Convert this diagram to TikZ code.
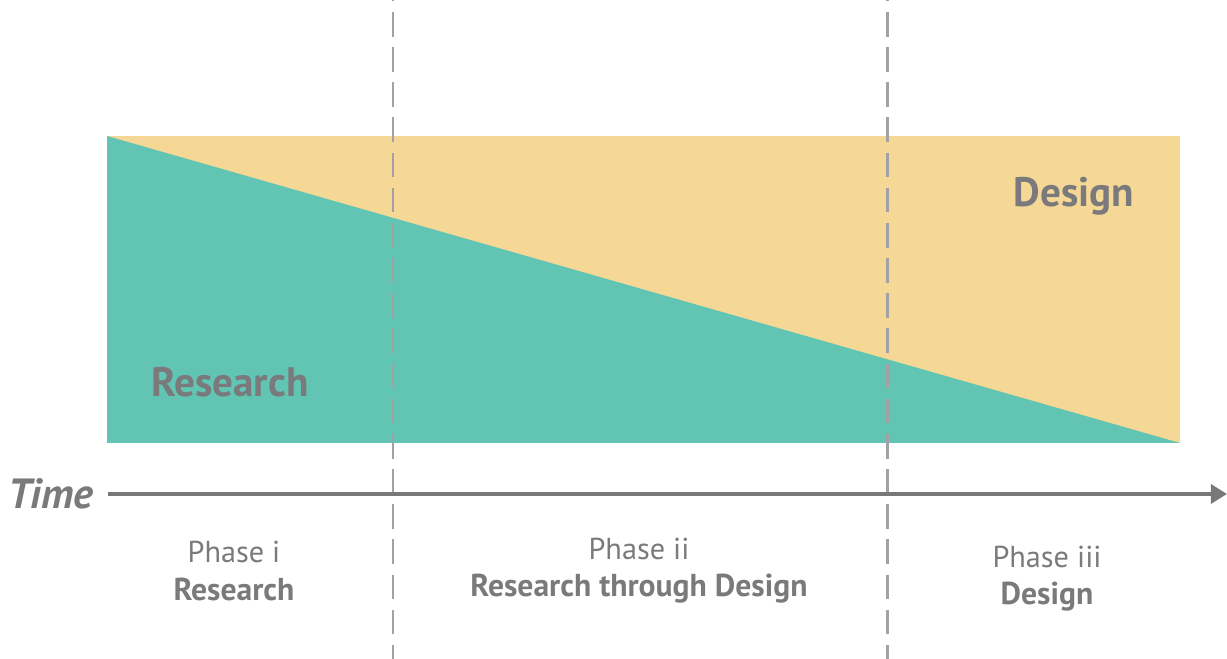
\documentclass[tikz,border=0pt]{standalone}
\usepackage{fontspec}
\setmainfont{PT Sans}
\usetikzlibrary{arrows.meta}
\definecolor{sand}{HTML}{F6D896}
\definecolor{teal}{HTML}{62C4B2}
\definecolor{txtgray}{HTML}{7A7A7C}
\definecolor{axisgray}{HTML}{78787A}
\definecolor{dashgray}{HTML}{A2A2A4}
\tikzset{
  bigword/.style={text=txtgray, font=\fontsize{11.7}{14}\selectfont\bfseries, inner sep=0pt},
  phasetxt/.style={text=txtgray, font=\fontsize{8.6}{10.6}\selectfont, align=center, inner sep=0pt},
  phasebold/.style={font=\fontsize{9}{10.6}\selectfont\bfseries},
  divider/.style={draw=dashgray, line width=0.85pt, dash pattern=on 7pt off 3pt, dash phase=-3.4pt},
  axis/.style={draw=axisgray, line width=1.1pt, -{Triangle[length=4.6pt,width=5.4pt]}}
}
\begin{document}
\begin{tikzpicture}[x=0.01cm,y=-0.01cm]
\useasboundingbox (0,0) rectangle (1227,659);
% areas
\fill[sand] (107,136) rectangle (1180,443);
\fill[teal] (107,136) -- (107,443) -- (1180,443) -- cycle;
% dividers
\coordinate (d1top) at (393,0);
\coordinate (d1bot) at (393,659);
\coordinate (d2top) at (887,0);
\coordinate (d2bot) at (887,659);
\draw[divider] (d1top) -- (d1bot);
\draw[divider] (d2top) -- (d2bot);
% axis
\node[text=txtgray, font=\fontsize{12}{14}\selectfont\bfseries\itshape, inner sep=0pt] (time) at (51,494) {Time};
\coordinate (axstart) at (108,494);
\coordinate (axend) at (1227,494);
\draw[axis] (axstart) -- (axend);
% labels
\node[bigword] (design) at (1074,196) {Design};
\node[bigword] (research) at (230,382) {Research};
\node[phasetxt] (p1) at (234,571) {Phase i\\{\fontsize{9}{10.6}\selectfont\bfseries Research}};
\node[phasetxt] (p2) at (639,571) {Phase ii\\{\fontsize{9}{10.6}\selectfont\bfseries Research through Design}};
\node[phasetxt] (p3) at (1047,579) {Phase iii\\{\fontsize{9}{10.6}\selectfont\bfseries Design}};
\end{tikzpicture}
\end{document}
